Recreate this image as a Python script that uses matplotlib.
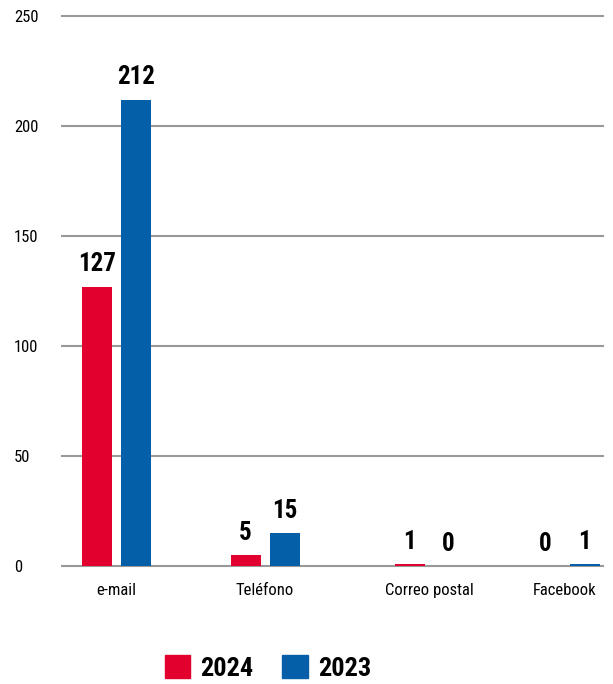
import matplotlib.pyplot as plt
from matplotlib.patches import Patch

categories = ['e-mail', 'Teléfono', 'Correo postal', 'Facebook']
v2024 = [127, 5, 1, 0]
v2023 = [212, 15, 0, 1]
series_names = ['2024', '2023']
yticks = [0, 50, 100, 150, 200, 250]

red = '#E2002F'
blue = '#055EA8'
font = ['Roboto Condensed', 'DejaVu Sans']
plt.rcParams['font.family'] = font

# group centres (the original spacing is uneven), in pixel-like units
centres = [54.5, 203, 367, 503]
bw = 30
off = 19.5

fig = plt.figure(figsize=(6.13, 6.84), dpi=100)
ax = fig.add_axes([62/613, 118/684, 541/613, 550/684])

x1 = [c - off for c in centres]
x2 = [c + off for c in centres]
ax.bar(x1, v2024, width=bw, color=red, zorder=3)
ax.bar(x2, v2023, width=bw, color=blue, zorder=3)

for xs, vals in ((x1, v2024), (x2, v2023)):
    for x, v in zip(xs, vals):
        ax.annotate(str(v), (x, v), xytext=(0, 11), textcoords='offset points',
                    ha='center', va='baseline', fontsize=18, fontweight='bold')

ax.set_xlim(0, 541)
ax.set_ylim(0, 250)
for y in yticks:
    ax.axhline(y, color='#999999', lw=1.5, zorder=1, clip_on=False)

ax.set_yticks(yticks)
ax.set_yticklabels([str(t) for t in yticks], fontsize=12, ha='left')
ax.tick_params(axis='y', length=0, pad=34.5)
ax.set_xticks(centres)
ax.set_xticklabels(categories, fontsize=12)
ax.tick_params(axis='x', length=0, pad=12)
for s in ax.spines.values():
    s.set_visible(False)

handles = [Patch(color=red), Patch(color=blue)]
fig.legend(handles, series_names, loc='center', bbox_to_anchor=(268/613, 1 - 668/684),
           ncol=2, frameon=False, handlelength=0.95, handleheight=0.95,
           handletextpad=0.4, columnspacing=1.1,
           prop={'size': 19, 'weight': 'bold', 'family': font})

fig.savefig('out.png', dpi=100)
